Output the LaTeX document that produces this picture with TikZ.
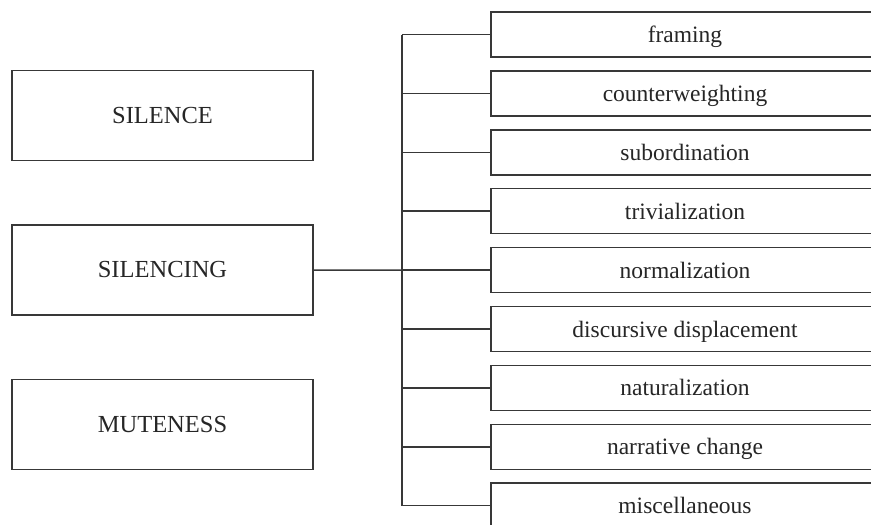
\documentclass[tikz,border=0pt]{standalone}
\usepackage{fontspec}
\setmainfont{Liberation Serif}
\begin{document}
\begin{tikzpicture}[x=1pt,y=-1pt,
  line/.style={draw=black!78, line width=1.5pt},
  leftbox/.style={line, minimum width=301pt, minimum height=90pt, inner sep=0pt,
    font=\fontsize{24.5}{28}\selectfont, text=black!85},
  rightbox/.style={line, minimum width=388pt, minimum height=45pt, inner sep=0pt,
    font=\fontsize{23.5}{28}\selectfont, text height=16pt, text depth=0pt, text=black!85}]
\useasboundingbox[fill=white] (0,0) rectangle (871,525);
\clip (0,0) rectangle (871,525);
\node[leftbox] (silence)   at (162.5,115.5) {SILENCE};
\node[leftbox] (silencing) at (162.5,270)   {SILENCING};
\node[leftbox] (muteness)  at (162.5,424.5) {MUTENESS};
\foreach \t [count=\i from 0] in {framing, counterweighting, subordination, trivialization, normalization, discursive displacement, naturalization, narrative change, miscellaneous}
  \node[rightbox] (r\i) at (685,34.5+58.9*\i) {\t};
\coordinate (tk) at (402,0);
\draw[line] (r0.west -| tk) -- (r8.west -| tk);
\foreach \i in {0,...,8}
  \draw[line] (r\i.west) -- (r\i.west -| tk);
\draw[line] (silencing.east) -- (r4.west);
\end{tikzpicture}
\end{document}
